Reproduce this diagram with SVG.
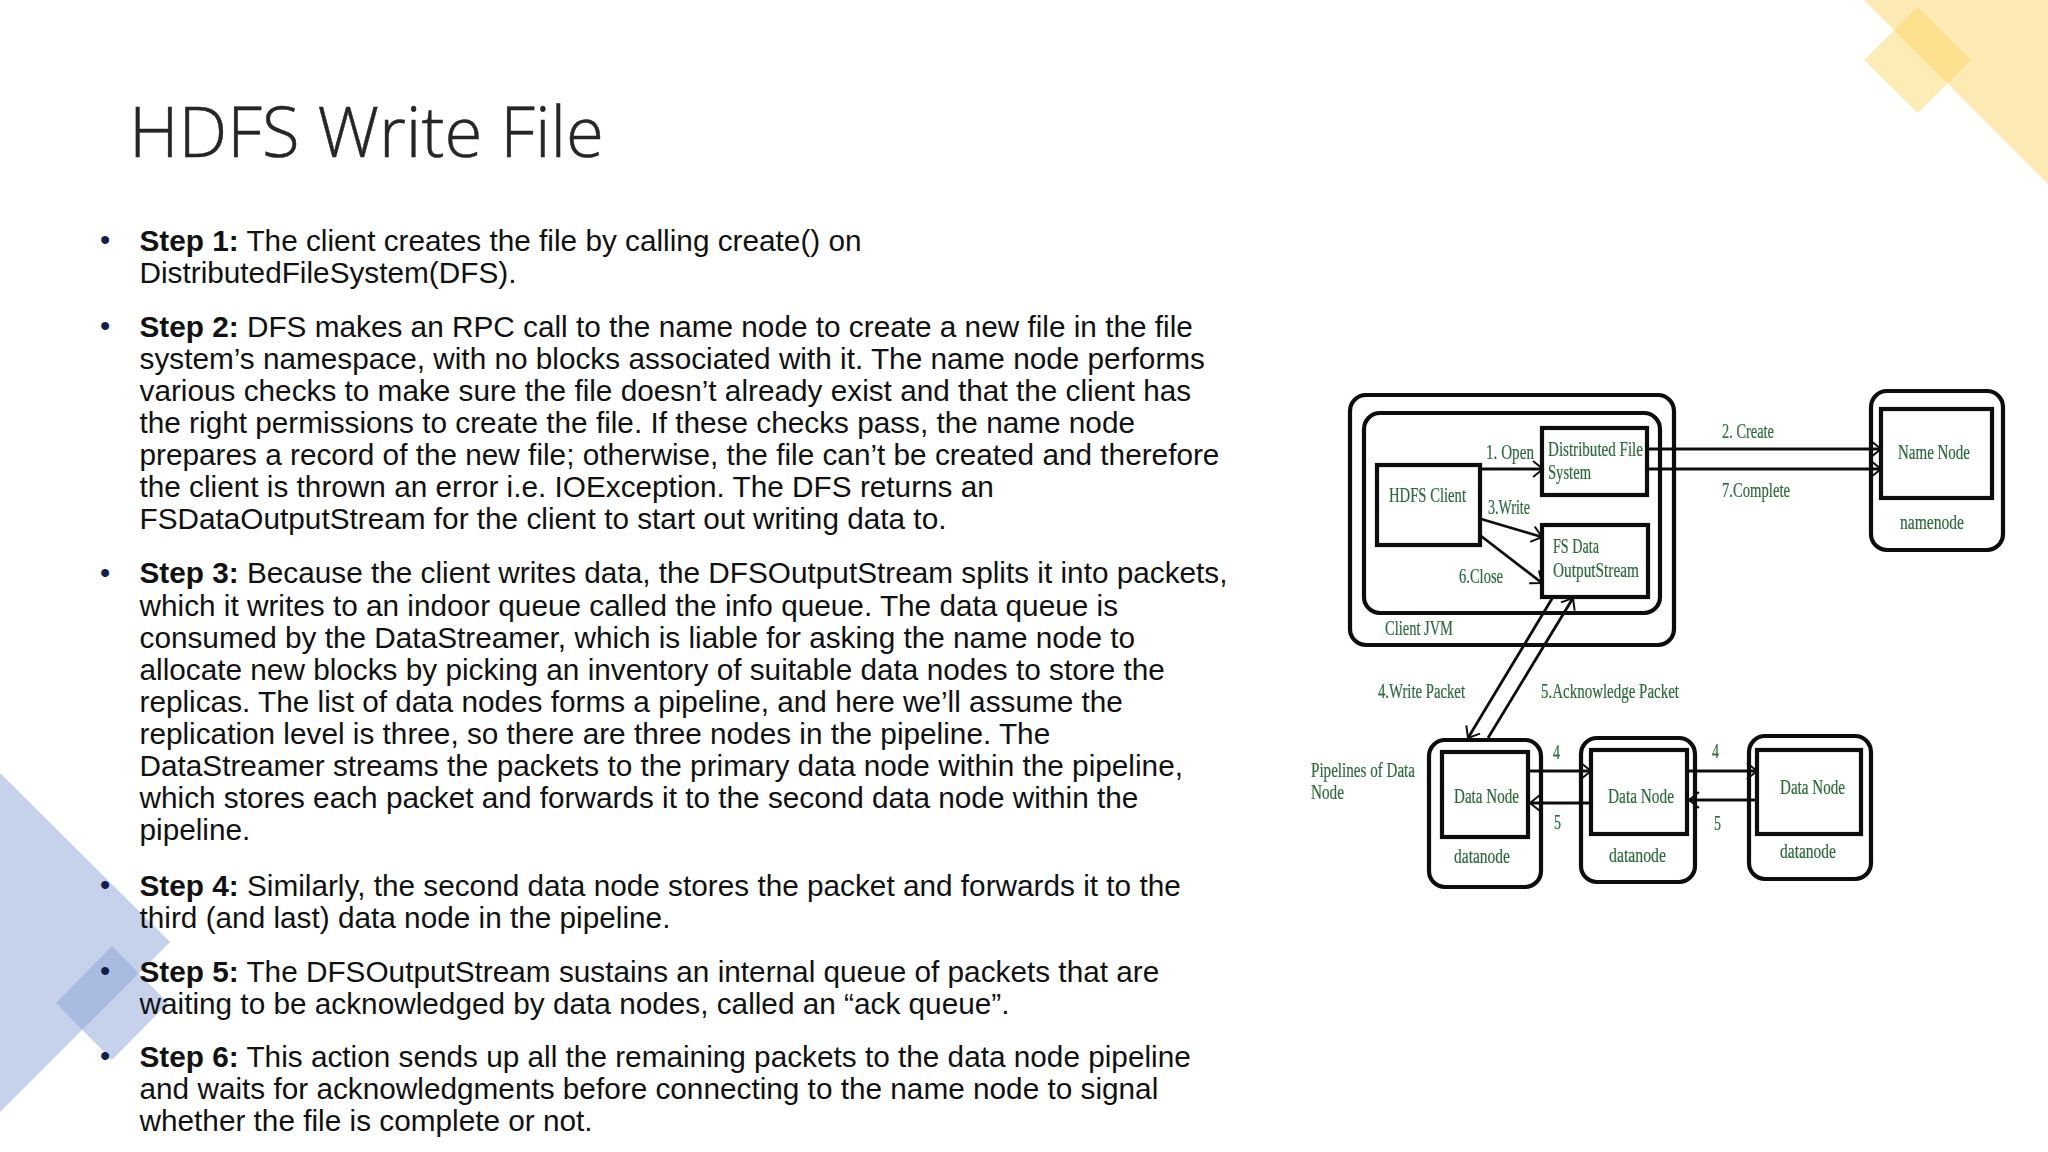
<svg xmlns="http://www.w3.org/2000/svg" width="2048" height="1152" viewBox="0 0 2048 1152">
<style>
.title{font-family:"Open Sans","Liberation Sans",sans-serif;font-weight:300;font-size:70px;fill:#262626;stroke:#262626;stroke-width:0.5}
.body{font-family:"Liberation Sans",Arial,sans-serif;font-size:29.75px;fill:#111}
.body .b{font-weight:700}
.bullet{font-family:"Liberation Sans",Arial,sans-serif;font-size:29.3px;fill:#10204a}
.box{fill:#fff;stroke:#111;stroke-width:4.2}
.outer{fill:none;stroke:#111;stroke-width:4.2}
.lab{font-family:"Liberation Serif","Times New Roman",serif;font-size:20px;fill:#2a6a3a;stroke:#2a6a3a;stroke-width:0.2}
.conn{fill:none;stroke:#111;stroke-width:2.8;marker-end:url(#arr)}
</style>
<defs>
<marker id="arr" markerUnits="userSpaceOnUse" markerWidth="14" markerHeight="18" refX="12" refY="9" orient="auto">
<path d="M2 1L12 9L2 17" fill="none" stroke="#111" stroke-width="2"/>
</marker>
<filter id="soft" x="-5%" y="-5%" width="110%" height="110%"><feGaussianBlur stdDeviation="0.6"/></filter>
</defs>
<rect width="2048" height="1152" fill="#fff"/>
<g id="decor">
<polygon points="1864,0 2048,0 2048,184" fill="#fde9b4"/>
<polygon points="1918,7 1971,60 1918,113 1864,60" fill="#fbd45e" fill-opacity="0.45"/>
<polygon points="0,773 170,942 0,1112" fill="#c6d1ec"/>
<polygon points="112,946 168,1003 112,1060 56,1003" fill="#8ea5d8" fill-opacity="0.5"/>
</g>
<text id="title" class="title" x="129" y="157" textLength="475" lengthAdjust="spacingAndGlyphs">HDFS Write File</text>
<g id="bullets" class="bullet">
<text x="100" y="250">•</text><text x="100" y="336">•</text><text x="100" y="583">•</text><text x="100" y="895">•</text><text x="100" y="981">•</text><text x="100" y="1066">•</text>
</g>
<g id="body" class="body">
<text y="251"><tspan x="139.5"><tspan class="b">Step 1:</tspan> The client creates the file by calling create() on</tspan><tspan x="139.5" dy="32.13">DistributedFileSystem(DFS).</tspan></text>
<text y="336.5"><tspan x="139.5"><tspan class="b">Step 2:</tspan> DFS makes an RPC call to the name node to create a new file in the file</tspan><tspan x="139.5" dy="32.13">system’s namespace, with no blocks associated with it. The name node performs</tspan><tspan x="139.5" dy="32.13">various checks to make sure the file doesn’t already exist and that the client has</tspan><tspan x="139.5" dy="32.13">the right permissions to create the file. If these checks pass, the name node</tspan><tspan x="139.5" dy="32.13">prepares a record of the new file; otherwise, the file can’t be created and therefore</tspan><tspan x="139.5" dy="32.13">the client is thrown an error i.e. IOException. The DFS returns an</tspan><tspan x="139.5" dy="32.13">FSDataOutputStream for the client to start out writing data to.</tspan></text>
<text y="583.4"><tspan x="139.5"><tspan class="b">Step 3:</tspan> Because the client writes data, the DFSOutputStream splits it into packets,</tspan><tspan x="139.5" dy="32.13">which it writes to an indoor queue called the info queue. The data queue is</tspan><tspan x="139.5" dy="32.13">consumed by the DataStreamer, which is liable for asking the name node to</tspan><tspan x="139.5" dy="32.13">allocate new blocks by picking an inventory of suitable data nodes to store the</tspan><tspan x="139.5" dy="32.13">replicas. The list of data nodes forms a pipeline, and here we’ll assume the</tspan><tspan x="139.5" dy="32.13">replication level is three, so there are three nodes in the pipeline. The</tspan><tspan x="139.5" dy="32.13">DataStreamer streams the packets to the primary data node within the pipeline,</tspan><tspan x="139.5" dy="32.13">which stores each packet and forwards it to the second data node within the</tspan><tspan x="139.5" dy="32.13">pipeline.</tspan></text>
<text y="895.5"><tspan x="139.5"><tspan class="b">Step 4:</tspan> Similarly, the second data node stores the packet and forwards it to the</tspan><tspan x="139.5" dy="32.13">third (and last) data node in the pipeline.</tspan></text>
<text y="981.7"><tspan x="139.5"><tspan class="b">Step 5:</tspan> The DFSOutputStream sustains an internal queue of packets that are</tspan><tspan x="139.5" dy="32.13">waiting to be acknowledged by data nodes, called an “ack queue”.</tspan></text>
<text y="1066.6"><tspan x="139.5"><tspan class="b">Step 6:</tspan> This action sends up all the remaining packets to the data node pipeline</tspan><tspan x="139.5" dy="32.13">and waits for acknowledgments before connecting to the name node to signal</tspan><tspan x="139.5" dy="32.13">whether the file is complete or not.</tspan></text>
</g>
<g id="diagram" filter="url(#soft)">
<g id="client-jvm">
<rect class="outer" x="1350" y="395" width="324" height="250" rx="16"/>
<rect class="outer" x="1364" y="413" width="296" height="200" rx="16"/>
<text class="lab" x="1385" y="635" textLength="68" lengthAdjust="spacingAndGlyphs">Client JVM</text>
</g>
<g id="hdfs-client">
<rect class="box" x="1377" y="465" width="103" height="80"/>
<text class="lab" x="1389" y="502" textLength="77" lengthAdjust="spacingAndGlyphs">HDFS Client</text>
</g>
<g id="distributed-file-system">
<rect class="box" x="1542" y="428" width="105" height="67"/>
<text class="lab" x="1548" y="456" textLength="95" lengthAdjust="spacingAndGlyphs">Distributed File</text>
<text class="lab" x="1548" y="479" textLength="43" lengthAdjust="spacingAndGlyphs">System</text>
</g>
<g id="fs-data-outputstream">
<rect class="box" x="1542" y="525" width="106" height="72"/>
<text class="lab" x="1553" y="553" textLength="46" lengthAdjust="spacingAndGlyphs">FS Data</text>
<text class="lab" x="1553" y="577" textLength="86" lengthAdjust="spacingAndGlyphs">OutputStream</text>
</g>
<g id="name-node">
<rect class="outer" x="1871" y="391" width="132" height="159" rx="16"/>
<rect class="box" x="1881" y="409" width="111" height="89"/>
<text class="lab" x="1898" y="459" textLength="72" lengthAdjust="spacingAndGlyphs">Name Node</text>
<text class="lab" x="1900" y="529" textLength="64" lengthAdjust="spacingAndGlyphs">namenode</text>
</g>
<g id="data-node-1">
<rect class="outer" x="1429" y="740" width="112" height="147" rx="16"/>
<rect class="box" x="1442" y="752" width="86" height="85"/>
<text class="lab" x="1454" y="803" textLength="65" lengthAdjust="spacingAndGlyphs">Data Node</text>
<text class="lab" x="1454" y="863" textLength="56" lengthAdjust="spacingAndGlyphs">datanode</text>
</g>
<g id="data-node-2">
<rect class="outer" x="1581" y="738" width="114" height="144" rx="16"/>
<rect class="box" x="1591" y="750" width="96" height="84"/>
<text class="lab" x="1608" y="803" textLength="66" lengthAdjust="spacingAndGlyphs">Data Node</text>
<text class="lab" x="1609" y="862" textLength="57" lengthAdjust="spacingAndGlyphs">datanode</text>
</g>
<g id="data-node-3">
<rect class="outer" x="1749" y="736" width="122" height="143" rx="16"/>
<rect class="box" x="1757" y="750" width="104" height="84"/>
<text class="lab" x="1780" y="794" textLength="65" lengthAdjust="spacingAndGlyphs">Data Node</text>
<text class="lab" x="1780" y="858" textLength="56" lengthAdjust="spacingAndGlyphs">datanode</text>
</g>
<g id="connectors">
<line class="conn" x1="1647" y1="449" x2="1881" y2="449"/>
<line class="conn" x1="1647" y1="469" x2="1881" y2="469"/>
<line class="conn" x1="1481" y1="469" x2="1543" y2="469"/>
<line class="conn" x1="1481" y1="519" x2="1542" y2="537"/>
<line class="conn" x1="1481" y1="536" x2="1542" y2="583"/>
<line class="conn" x1="1553" y1="597" x2="1468" y2="738"/>
<line class="conn" x1="1488" y1="738" x2="1573" y2="598"/>
<line class="conn" x1="1528" y1="771" x2="1591" y2="771"/>
<line class="conn" x1="1591" y1="803" x2="1530" y2="803"/>
<line class="conn" x1="1687" y1="771" x2="1757" y2="771"/>
<line class="conn" x1="1757" y1="800" x2="1689" y2="800"/>
</g>
<g id="labels">
<text class="lab" x="1486" y="459" textLength="48" lengthAdjust="spacingAndGlyphs">1. Open</text>
<text class="lab" x="1488" y="514" textLength="42" lengthAdjust="spacingAndGlyphs">3.Write</text>
<text class="lab" x="1459" y="583" textLength="44" lengthAdjust="spacingAndGlyphs">6.Close</text>
<text class="lab" x="1722" y="438" textLength="52" lengthAdjust="spacingAndGlyphs">2. Create</text>
<text class="lab" x="1722" y="497" textLength="68" lengthAdjust="spacingAndGlyphs">7.Complete</text>
<text class="lab" x="1378" y="698" textLength="87" lengthAdjust="spacingAndGlyphs">4.Write Packet</text>
<text class="lab" x="1541" y="698" textLength="138" lengthAdjust="spacingAndGlyphs">5.Acknowledge Packet</text>
<text class="lab" x="1311" y="777" textLength="104" lengthAdjust="spacingAndGlyphs">Pipelines of Data</text>
<text class="lab" x="1311" y="799" textLength="33" lengthAdjust="spacingAndGlyphs">Node</text>
<text class="lab" x="1553" y="759" textLength="7" lengthAdjust="spacingAndGlyphs">4</text>
<text class="lab" x="1554" y="829" textLength="7" lengthAdjust="spacingAndGlyphs">5</text>
<text class="lab" x="1712" y="758" textLength="7" lengthAdjust="spacingAndGlyphs">4</text>
<text class="lab" x="1714" y="830" textLength="7" lengthAdjust="spacingAndGlyphs">5</text>
</g>
</g>
</svg>
